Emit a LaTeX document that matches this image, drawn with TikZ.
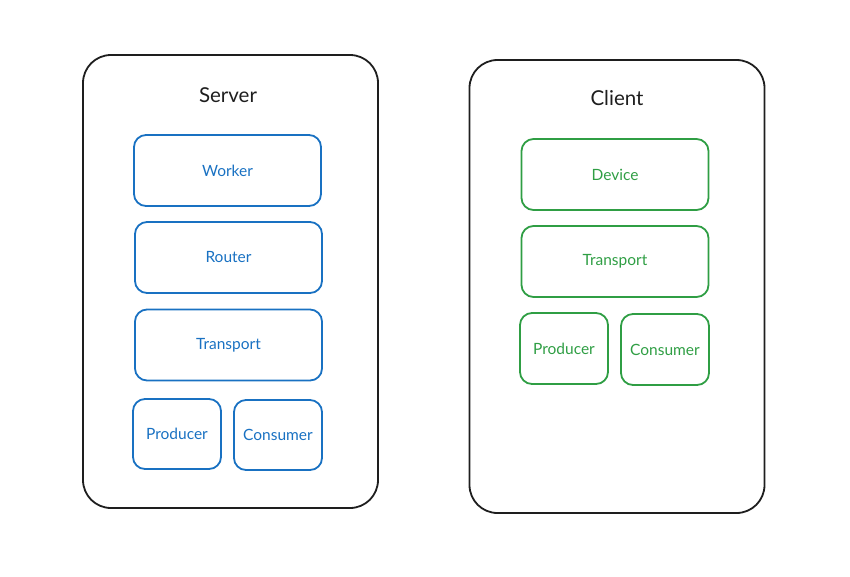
\documentclass[tikz,border=0pt]{standalone}
\usepackage{fontspec}
\setmainfont{Lato}
\definecolor{xblue}{HTML}{1971C2}
\definecolor{xgreen}{HTML}{2F9E44}
\definecolor{xblack}{HTML}{1E1E1E}
\begin{document}
\begin{tikzpicture}[x=1pt,y=-1pt,
  outerbox/.style={draw=xblack,line width=1.8pt,rounded corners=28pt,minimum width=295pt,minimum height=453pt,inner sep=0pt},
  inbox/.style={line width=1.8pt,rounded corners=12pt,inner sep=0pt,font=\fontsize{15.5}{17}\selectfont},
  widebox/.style={inbox,minimum width=187pt,minimum height=71pt},
  smallbox/.style={inbox,minimum width=88pt,minimum height=70pt},
  blue/.style={draw=xblue,text=xblue},
  green/.style={draw=xgreen,text=xgreen},
  titletext/.style={text=xblack,font=\fontsize{20.5}{23}\selectfont}]
\useasboundingbox (0,0) rectangle (850,576);
% Server
\node[outerbox] (server) at (230.5,281.5) {};
\node[titletext] (servertitle) at (228,95) {Server};
\node[widebox,blue] (worker) at (227.5,170.5) {Worker};
\node[widebox,blue] (router) at (228.5,257.5) {Router};
\node[widebox,blue] (stransport) at (228.5,345) {Transport};
\node[smallbox,blue] (sproducer) at (177,434) {Producer};
\node[smallbox,blue] (sconsumer) at (278,435) {Consumer};
% Client
\node[outerbox] (client) at (617,286.5) {};
\node[titletext] (clienttitle) at (617,98) {Client};
\node[widebox,green] (device) at (615,174.5) {Device};
\node[widebox,green] (ctransport) at (615,261.5) {Transport};
\node[smallbox,green,minimum height=71pt] (cproducer) at (564,348.5) {Producer};
\node[smallbox,green,minimum height=71pt] (cconsumer) at (665,349.5) {Consumer};
\end{tikzpicture}
\end{document}
